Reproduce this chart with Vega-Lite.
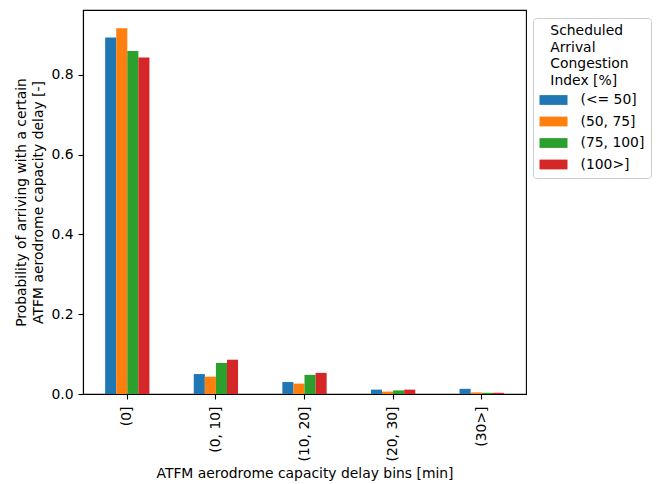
{
  "$schema": "https://vega.github.io/schema/vega-lite/v6.json",
  "width": 443,
  "height": 384,
  "autosize": {"type": "none"},
  "padding": {"left": 83, "top": 10, "right": 132, "bottom": 90},
  "background": "white",
  "config": {
    "font": "DejaVu Sans",
    "view": {"stroke": "#000000", "strokeWidth": 1.1},
    "axis": {
      "domainColor": "#000000",
      "domainWidth": 1.1,
      "tickColor": "#000000",
      "tickWidth": 1.1,
      "tickSize": 5,
      "labelFontSize": 13.9,
      "labelColor": "#000000",
      "titleFontSize": 13.9,
      "titleFontWeight": "normal",
      "titleColor": "#000000",
      "grid": false
    }
  },
  "data": {
    "values": [
      {"bin": "(0]", "saci": "(<= 50]", "p": 0.894},
      {"bin": "(0]", "saci": "(50, 75]", "p": 0.917},
      {"bin": "(0]", "saci": "(75, 100]", "p": 0.860},
      {"bin": "(0]", "saci": "(100>]", "p": 0.844},
      {"bin": "(0, 10]", "saci": "(<= 50]", "p": 0.050},
      {"bin": "(0, 10]", "saci": "(50, 75]", "p": 0.0435},
      {"bin": "(0, 10]", "saci": "(75, 100]", "p": 0.078},
      {"bin": "(0, 10]", "saci": "(100>]", "p": 0.086},
      {"bin": "(10, 20]", "saci": "(<= 50]", "p": 0.030},
      {"bin": "(10, 20]", "saci": "(50, 75]", "p": 0.026},
      {"bin": "(10, 20]", "saci": "(75, 100]", "p": 0.048},
      {"bin": "(10, 20]", "saci": "(100>]", "p": 0.053},
      {"bin": "(20, 30]", "saci": "(<= 50]", "p": 0.011},
      {"bin": "(20, 30]", "saci": "(50, 75]", "p": 0.006},
      {"bin": "(20, 30]", "saci": "(75, 100]", "p": 0.009},
      {"bin": "(20, 30]", "saci": "(100>]", "p": 0.011},
      {"bin": "(30>]", "saci": "(<= 50]", "p": 0.013},
      {"bin": "(30>]", "saci": "(50, 75]", "p": 0.004},
      {"bin": "(30>]", "saci": "(75, 100]", "p": 0.003},
      {"bin": "(30>]", "saci": "(100>]", "p": 0.003}
    ]
  },
  "mark": {"type": "bar"},
  "encoding": {
    "x": {
      "field": "bin",
      "type": "nominal",
      "sort": ["(0]", "(0, 10]", "(10, 20]", "(20, 30]", "(30>]"],
      "scale": {"paddingInner": 0.5, "paddingOuter": 0.25},
      "axis": {
        "title": "ATFM aerodrome capacity delay bins [min]",
        "labelAngle": 270,
        "labelAlign": "right",
        "labelBaseline": "middle",
        "labelPadding": 7,
        "titlePadding": 5
      }
    },
    "xOffset": {
      "field": "saci",
      "type": "nominal",
      "sort": ["(<= 50]", "(50, 75]", "(75, 100]", "(100>]"],
      "scale": {"paddingInner": 0, "paddingOuter": 0}
    },
    "y": {
      "field": "p",
      "type": "quantitative",
      "scale": {"domain": [0, 0.963], "nice": false, "zero": true},
      "axis": {
        "title": ["Probability of arriving with a certain", "ATFM aerodrome capacity delay [-]"],
        "values": [0, 0.2, 0.4, 0.6, 0.8],
        "format": ".1f",
        "labelPadding": 5,
        "titlePadding": 5,
        "titleLineHeight": 17
      }
    },
    "color": {
      "field": "saci",
      "type": "nominal",
      "sort": ["(<= 50]", "(50, 75]", "(75, 100]", "(100>]"],
      "scale": {
        "domain": ["(<= 50]", "(50, 75]", "(75, 100]", "(100>]"],
        "range": ["#1f77b4", "#ff7f0e", "#2ca02c", "#d62728"]
      },
      "legend": {
        "title": ["\u200b\u2002\u00a0Scheduled", "\u200b\u2002\u00a0Arrival", "\u200b\u2002\u00a0Congestion", "\u200b\u2002\u00a0Index [%]"],
        "orient": "none",
        "legendX": 450,
        "legendY": 8,
        "padding": 6,
        "strokeColor": "#cccccc",
        "fillColor": "white",
        "cornerRadius": 3,
        "titleFontSize": 13.9,
        "titleFontWeight": "normal",
        "titleColor": "#000000",
        "titleLineHeight": 16.7,
        "titlePadding": 5,
        "labelFontSize": 13.9,
        "labelColor": "#000000",
        "symbolType": "M-2,-0.7H2V0.7H-2Z",
        "symbolSize": 196,
        "symbolStrokeWidth": 0,
        "symbolOpacity": 1,
        "symbolOffset": 7.5,
        "labelOffset": 20,
        "rowPadding": 7.5
      }
    }
  }
}
